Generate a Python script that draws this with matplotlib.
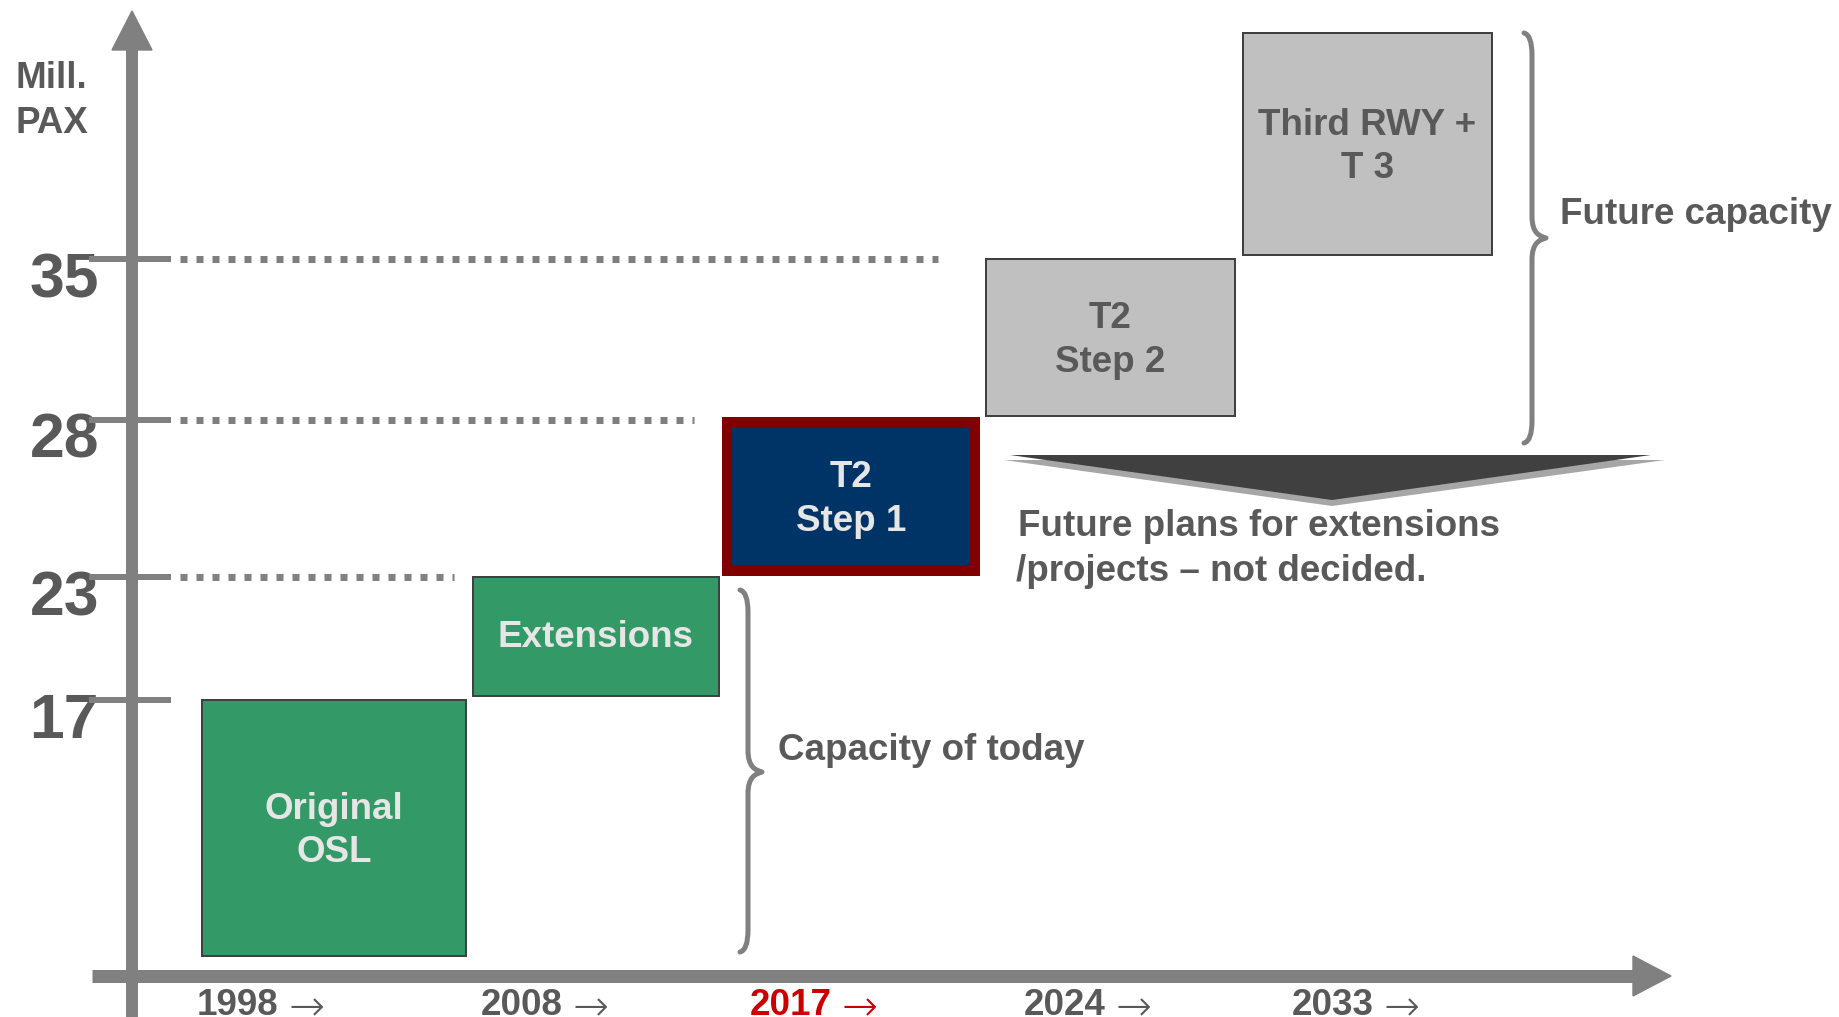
import matplotlib
matplotlib.use("Agg")
import matplotlib.pyplot as plt
import numpy as np
from matplotlib.patches import Rectangle, Polygon, PathPatch
from matplotlib.path import Path

plt.rcParams['font.family'] = ['Liberation Sans', 'DejaVu Sans']
plt.rcParams['font.weight'] = 'bold'
plt.rcParams['lines.scale_dashes'] = False

# ---------------- data ----------------
capacity_levels = [17, 23, 28, 35]
capacity_labels = ['17', '23', '28', '35']
year_labels = ['1998 →', '2008 →', '2017 →', '2024 →', '2033 →']
current_year = '2017 →'
project_names = ['Original\nOSL', 'Extensions', 'T2\nStep 1', 'T2\nStep 2', 'Third RWY +\nT 3']
project_low = [0, 17, 23, 28, 35]        # capacity from (mill. PAX)
project_high = [17, 23, 28, 35, None]    # capacity to (None = open ended)
project_status = ['built', 'built', 'current', 'future', 'future']
today_label = 'Capacity of today'
future_label = 'Future capacity'
plans_lines = ['Future plans for extensions', '/projects – not decided.']

# ---------------- layout (pixels) ----------------
W, H = 1839, 1017
lvl_knots = [0, 17, 23, 28, 35]
px_knots = [960, 700, 577, 420, 259]
open_top = 33

def ypx(v):
    return float(np.interp(v, lvl_knots, px_knots))

box_left = [202, 473, 722, 986, 1243]
box_right = [466, 719, 980, 1235, 1492]
year_left = [197, 481, 750, 1024, 1292]
guide_end = [None, 454, 694, 938]

GRAY = '#808080'
TXT = '#595959'
LIGHT = '#E6E6E6'
styles = {
    'built': dict(fc='#339966', ec='#404040', tc=LIGHT),
    'current': dict(fc='#003366', ec='#800000', tc=LIGHT),
    'future': dict(fc='#C0C0C0', ec='#404040', tc=TXT),
}
PT = 0.72  # points per pixel at 100 dpi
FS = 26.5

fig = plt.figure(figsize=(W / 100, H / 100), dpi=100)
ax = fig.add_axes([0, 0, 1, 1])
ax.set_xlim(0, W)
ax.set_ylim(H, 0)
ax.axis('off')

# axes arrows
ax.plot([132, 132], [H, 50], color=GRAY, lw=12 * PT, solid_capstyle='butt', zorder=2)
ax.add_patch(Polygon([[112, 50], [152, 50], [132, 11]], closed=True, color=GRAY, zorder=2))
ax.plot([92, 1633], [976, 976], color=GRAY, lw=13 * PT, solid_capstyle='butt', zorder=2)
ax.add_patch(Polygon([[1633, 956], [1633, 996], [1671, 976]], closed=True, color=GRAY, zorder=2))

# ticks, labels, guides
for lv, lab, gend in zip(capacity_levels, capacity_labels, guide_end):
    y = ypx(lv)
    ax.plot([89, 171], [y, y], color=GRAY, lw=6 * PT, solid_capstyle='butt', zorder=3)
    ax.text(99, y + 38, lab, ha='right', va='baseline', fontsize=45, color=TXT, zorder=1)
    if gend is not None:
        ax.plot([180, gend], [y, y], color=GRAY, lw=7 * PT,
                linestyle=(0, (7 * PT, 9 * PT)), dash_capstyle='butt', zorder=3)

ax.text(15, 88, 'Mill.', ha='left', va='baseline', fontsize=FS, color=TXT)
ax.text(15, 133, 'PAX', ha='left', va='baseline', fontsize=FS, color=TXT)

# boxes
for name, lo, hi, st, xl, xr in zip(project_names, project_low, project_high,
                                     project_status, box_left, box_right):
    s = styles[st]
    top = ypx(hi) if hi is not None else open_top
    bot = ypx(lo) - 4
    if st == 'current':
        top -= 3
        bot += 3
        ax.add_patch(Rectangle((xl, top), xr - xl, bot - top, fc=s['ec'], ec='none', zorder=4))
        ax.add_patch(Rectangle((xl + 10, top + 11), xr - xl - 20, bot - top - 22,
                               fc=s['fc'], ec='none', zorder=5))
    else:
        ax.add_patch(Rectangle((xl, top), xr - xl, bot - top, fc=s['fc'], ec=s['ec'],
                               lw=2 * PT, zorder=4))
    ax.text((xl + xr) / 2, (top + bot) / 2 + (3 if '\n' in name else 1), name,
            ha='center', va='center', fontsize=FS, color=s['tc'], linespacing=1.32, zorder=6)

# year labels (year in bold sans, arrow as thin long glyph)
fig.canvas.draw()
renderer = fig.canvas.get_renderer()
for lab, xl in zip(year_labels, year_left):
    year, arrow = lab.split(' ', 1)
    col = '#CC0000' if lab == current_year else TXT
    t = ax.text(xl, 1015, year, ha='left', va='baseline', fontsize=FS, color=col)
    bb = t.get_window_extent(renderer=renderer)
    x_end = ax.transData.inverted().transform((bb.x1, bb.y0))[0]
    ax.text(x_end + 10, 1020, arrow, ha='left', va='baseline', fontsize=31,
            fontweight='light', family=['DejaVu Sans'], color=col)

# braces
def brace(x1, ytop, ymid, ybot, back=8, tip=14, r=22):
    x0, x2 = x1 - back, x1 + tip
    verts = [(x0, ytop), (x1, ytop + 2), (x1, ytop + r),
             (x1, ymid - r),
             (x1, ymid - 4), (x2 - 6, ymid - 2), (x2, ymid),
             (x2 - 6, ymid + 2), (x1, ymid + 4), (x1, ymid + r),
             (x1, ybot - r),
             (x1, ybot - 2), (x0, ybot)]
    codes = [Path.MOVETO, Path.CURVE3, Path.CURVE3,
             Path.LINETO,
             Path.CURVE4, Path.CURVE4, Path.CURVE4,
             Path.CURVE4, Path.CURVE4, Path.CURVE4,
             Path.LINETO,
             Path.CURVE3, Path.CURVE3]
    ax.add_patch(PathPatch(Path(verts, codes), fc='none', ec=GRAY, lw=5 * PT,
                           capstyle='round', joinstyle='round', zorder=3))

brace(748, 590, 772, 952)
brace(1532, 33, 238, 443)
ax.text(778, 760, today_label, ha='left', va='baseline', fontsize=FS, color=TXT)
ax.text(1560, 224, future_label, ha='left', va='baseline', fontsize=FS, color=TXT)

# down-pointing wedge
ax.add_patch(Polygon([[1004, 460], [1665, 460], [1332, 506]], closed=True,
                     color='#A6A6A6', ec='none', zorder=3))
ax.add_patch(Polygon([[1010, 455], [1651, 455], [1332, 500]], closed=True,
                     color='#404040', ec='none', zorder=4))
ax.text(1018, 536, plans_lines[0], ha='left', va='baseline', fontsize=FS, color=TXT)
ax.text(1016, 581, plans_lines[1], ha='left', va='baseline', fontsize=FS, color=TXT)

fig.savefig('out.png', dpi=100, facecolor='white')
